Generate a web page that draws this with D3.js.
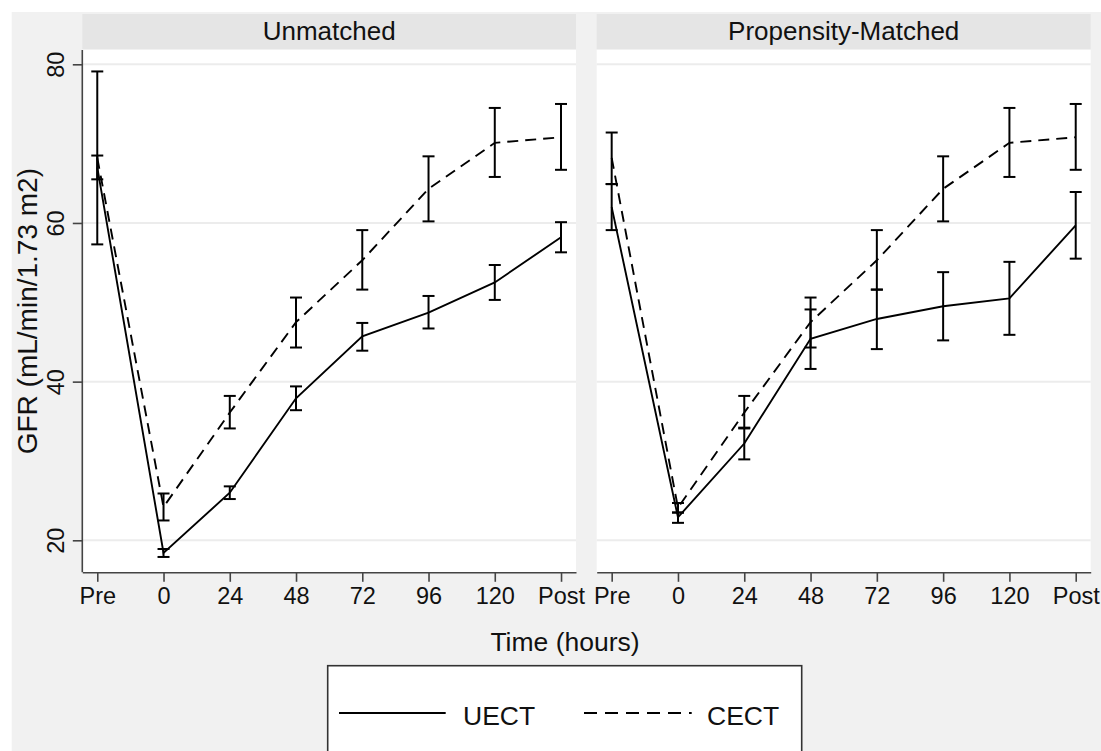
<!DOCTYPE html>
<html>
<head>
<meta charset="utf-8">
<script src="https://cdn.jsdelivr.net/npm/d3@7"></script>
<style>
  html, body { margin: 0; padding: 0; background: #ffffff; }
  svg { display: block; font-family: "Liberation Sans", Arial, Helvetica, sans-serif; }
</style>
</head>
<body>
<svg id="chart" width="1101" height="751"></svg>
<script>
// ---- data ----
const categories = ["Pre", "0", "24", "48", "72", "96", "120", "Post"];
const panelTitles = ["Unmatched", "Propensity-Matched"];
const yTicks = [20, 40, 60, 80];
const seriesNames = ["UECT", "CECT"];

const uectUnmatched   = [67.0, 18.4, 26.0, 37.9, 45.7, 48.7, 52.5, 58.2];
const uectUnmatchedLo = [65.5, 17.9, 25.2, 36.4, 43.9, 46.7, 50.3, 56.3];
const uectUnmatchedHi = [68.5, 18.9, 26.8, 39.4, 47.4, 50.8, 54.7, 60.1];
const cectUnmatched   = [68.2, 24.2, 36.1, 47.5, 55.3, 64.3, 70.1, 70.8];
const cectUnmatchedLo = [57.3, 22.5, 34.1, 44.3, 51.6, 60.2, 65.8, 66.7];
const cectUnmatchedHi = [79.1, 25.9, 38.2, 50.6, 59.1, 68.4, 74.5, 75.0];

const uectMatched   = [62.0, 22.9, 32.2, 45.4, 47.9, 49.5, 50.5, 59.7];
const uectMatchedLo = [59.1, 22.2, 30.2, 41.6, 44.1, 45.2, 45.9, 55.5];
const uectMatchedHi = [64.9, 23.5, 34.2, 49.1, 51.6, 53.8, 55.1, 63.9];
const cectMatched   = [68.2, 24.1, 36.1, 47.5, 55.3, 64.3, 70.1, 70.8];
const cectMatchedLo = [64.9, 23.5, 34.1, 44.3, 51.6, 60.2, 65.8, 66.7];
const cectMatchedHi = [71.4, 24.7, 38.2, 50.6, 59.1, 68.4, 74.5, 75.0];

// ---- layout ----
const svg = d3.select("#chart");
const plotTop = 50, plotBottom = 572.3;
const panelsX = [[82.3, 576], [596.7, 1090.7]];
const dashPattern = "11,7";

svg.append("rect").attr("x", 11.7).attr("y", 12).attr("width", 1101 - 11.7).attr("height", 751 - 12)
  .attr("fill", "#f1f1f1");

const y = d3.scaleLinear().domain([20, 80]).range([540.3, 64.3]);

const panelData = [
  [
    { name: "UECT", mean: uectUnmatched, lo: uectUnmatchedLo, hi: uectUnmatchedHi, dash: null },
    { name: "CECT", mean: cectUnmatched, lo: cectUnmatchedLo, hi: cectUnmatchedHi, dash: dashPattern }
  ],
  [
    { name: "UECT", mean: uectMatched, lo: uectMatchedLo, hi: uectMatchedHi, dash: null },
    { name: "CECT", mean: cectMatched, lo: cectMatchedLo, hi: cectMatchedHi, dash: dashPattern }
  ]
];

panelsX.forEach((range, pi) => {
  const x = d3.scalePoint().domain(categories).range(range).padding(0.226);
  const g = svg.append("g");
  const w = range[1] - range[0];

  // header strip
  g.append("rect").attr("x", range[0]).attr("y", 14).attr("width", w).attr("height", 35)
    .attr("fill", "#e5e5e5");
  g.append("text").attr("x", (range[0] + range[1]) / 2).attr("y", 39.7)
    .attr("text-anchor", "middle").attr("font-size", 26).attr("fill", "#111")
    .text(panelTitles[pi]);

  // plot background
  g.append("rect").attr("x", range[0]).attr("y", plotTop).attr("width", w).attr("height", plotBottom - plotTop)
    .attr("fill", "#ffffff");

  // gridlines
  g.selectAll(".grid").data(yTicks).enter().append("line")
    .attr("x1", range[0]).attr("x2", range[1])
    .attr("y1", d => y(d)).attr("y2", d => y(d))
    .attr("stroke", "#ececec").attr("stroke-width", 2);

  // x axis
  const xAxis = d3.axisBottom(x).tickSize(9.5).tickPadding(6).tickSizeOuter(0);
  const xg = g.append("g").attr("transform", `translate(0,${plotBottom})`).call(xAxis);
  xg.select(".domain").attr("stroke", "#444").attr("stroke-width", 1.6);
  xg.selectAll(".tick line").attr("stroke", "#444").attr("stroke-width", 1.6);
  xg.selectAll(".tick text").attr("font-size", 23.5).attr("fill", "#111")
    .attr("font-family", "Liberation Sans, Arial, sans-serif");

  // y axis only on first panel
  if (pi === 0) {
    const yAxis = d3.axisLeft(y).tickValues(yTicks).tickSize(9.5).tickPadding(6).tickSizeOuter(0);
    const yg = g.append("g").attr("transform", `translate(${range[0]},0)`).call(yAxis);
    yg.select(".domain").attr("d", `M0,${plotTop}V${plotBottom}`).attr("stroke", "#444").attr("stroke-width", 1.6);
    yg.selectAll(".tick line").attr("stroke", "#444").attr("stroke-width", 1.6);
    yg.selectAll(".tick text")
      .attr("font-size", 23.5).attr("fill", "#111")
      .attr("font-family", "Liberation Sans, Arial, sans-serif")
      .attr("x", null).attr("dy", null)
      .attr("text-anchor", "middle")
      .attr("transform", "translate(-18.5,0) rotate(-90)");
  }

  // series
  panelData[pi].forEach(s => {
    const pts = categories.map((c, i) => ({ c, m: s.mean[i], lo: s.lo[i], hi: s.hi[i] }));
    const line = d3.line().x(d => x(d.c)).y(d => y(d.m));
    g.append("path").datum(pts).attr("d", line)
      .attr("fill", "none").attr("stroke", "#000").attr("stroke-width", 1.9)
      .attr("stroke-dasharray", s.dash);

    const eb = g.append("g");
    eb.selectAll(".v").data(pts).enter().append("line")
      .attr("x1", d => x(d.c)).attr("x2", d => x(d.c))
      .attr("y1", d => y(d.lo)).attr("y2", d => y(d.hi))
      .attr("stroke", "#000").attr("stroke-width", 2);
    ["lo", "hi"].forEach(k => {
      eb.selectAll(".c" + k).data(pts).enter().append("line")
        .attr("x1", d => x(d.c) - 6).attr("x2", d => x(d.c) + 6)
        .attr("y1", d => y(d[k])).attr("y2", d => y(d[k]))
        .attr("stroke", "#000").attr("stroke-width", 2);
    });
  });
});

// y axis title
svg.append("text")
  .attr("transform", `translate(37,${(plotTop + plotBottom) / 2}) rotate(-90)`)
  .attr("text-anchor", "middle").attr("font-size", 28).attr("fill", "#111")
  .text("GFR (mL/min/1.73 m2)");

// x axis title
svg.append("text").attr("x", 565).attr("y", 651)
  .attr("text-anchor", "middle").attr("font-size", 26.5).attr("fill", "#111")
  .text("Time (hours)");

// legend
const lg = svg.append("g");
lg.append("rect").attr("x", 327.7).attr("y", 665.7).attr("width", 474).attr("height", 100)
  .attr("fill", "#ffffff").attr("stroke", "#333").attr("stroke-width", 1.6);
const legendItems = [
  { name: seriesNames[0], dash: null, x1: 339, x2: 445.7, tx: 463 },
  { name: seriesNames[1], dash: "13,8", x1: 584, x2: 691.7, tx: 707 }
];
legendItems.forEach(it => {
  lg.append("line").attr("x1", it.x1).attr("x2", it.x2).attr("y1", 713).attr("y2", 713)
    .attr("stroke", "#000").attr("stroke-width", 1.9).attr("stroke-dasharray", it.dash);
  lg.append("text").attr("x", it.tx).attr("y", 725).attr("font-size", 26.5).attr("fill", "#111")
    .text(it.name);
});
</script>
</body>
</html>
